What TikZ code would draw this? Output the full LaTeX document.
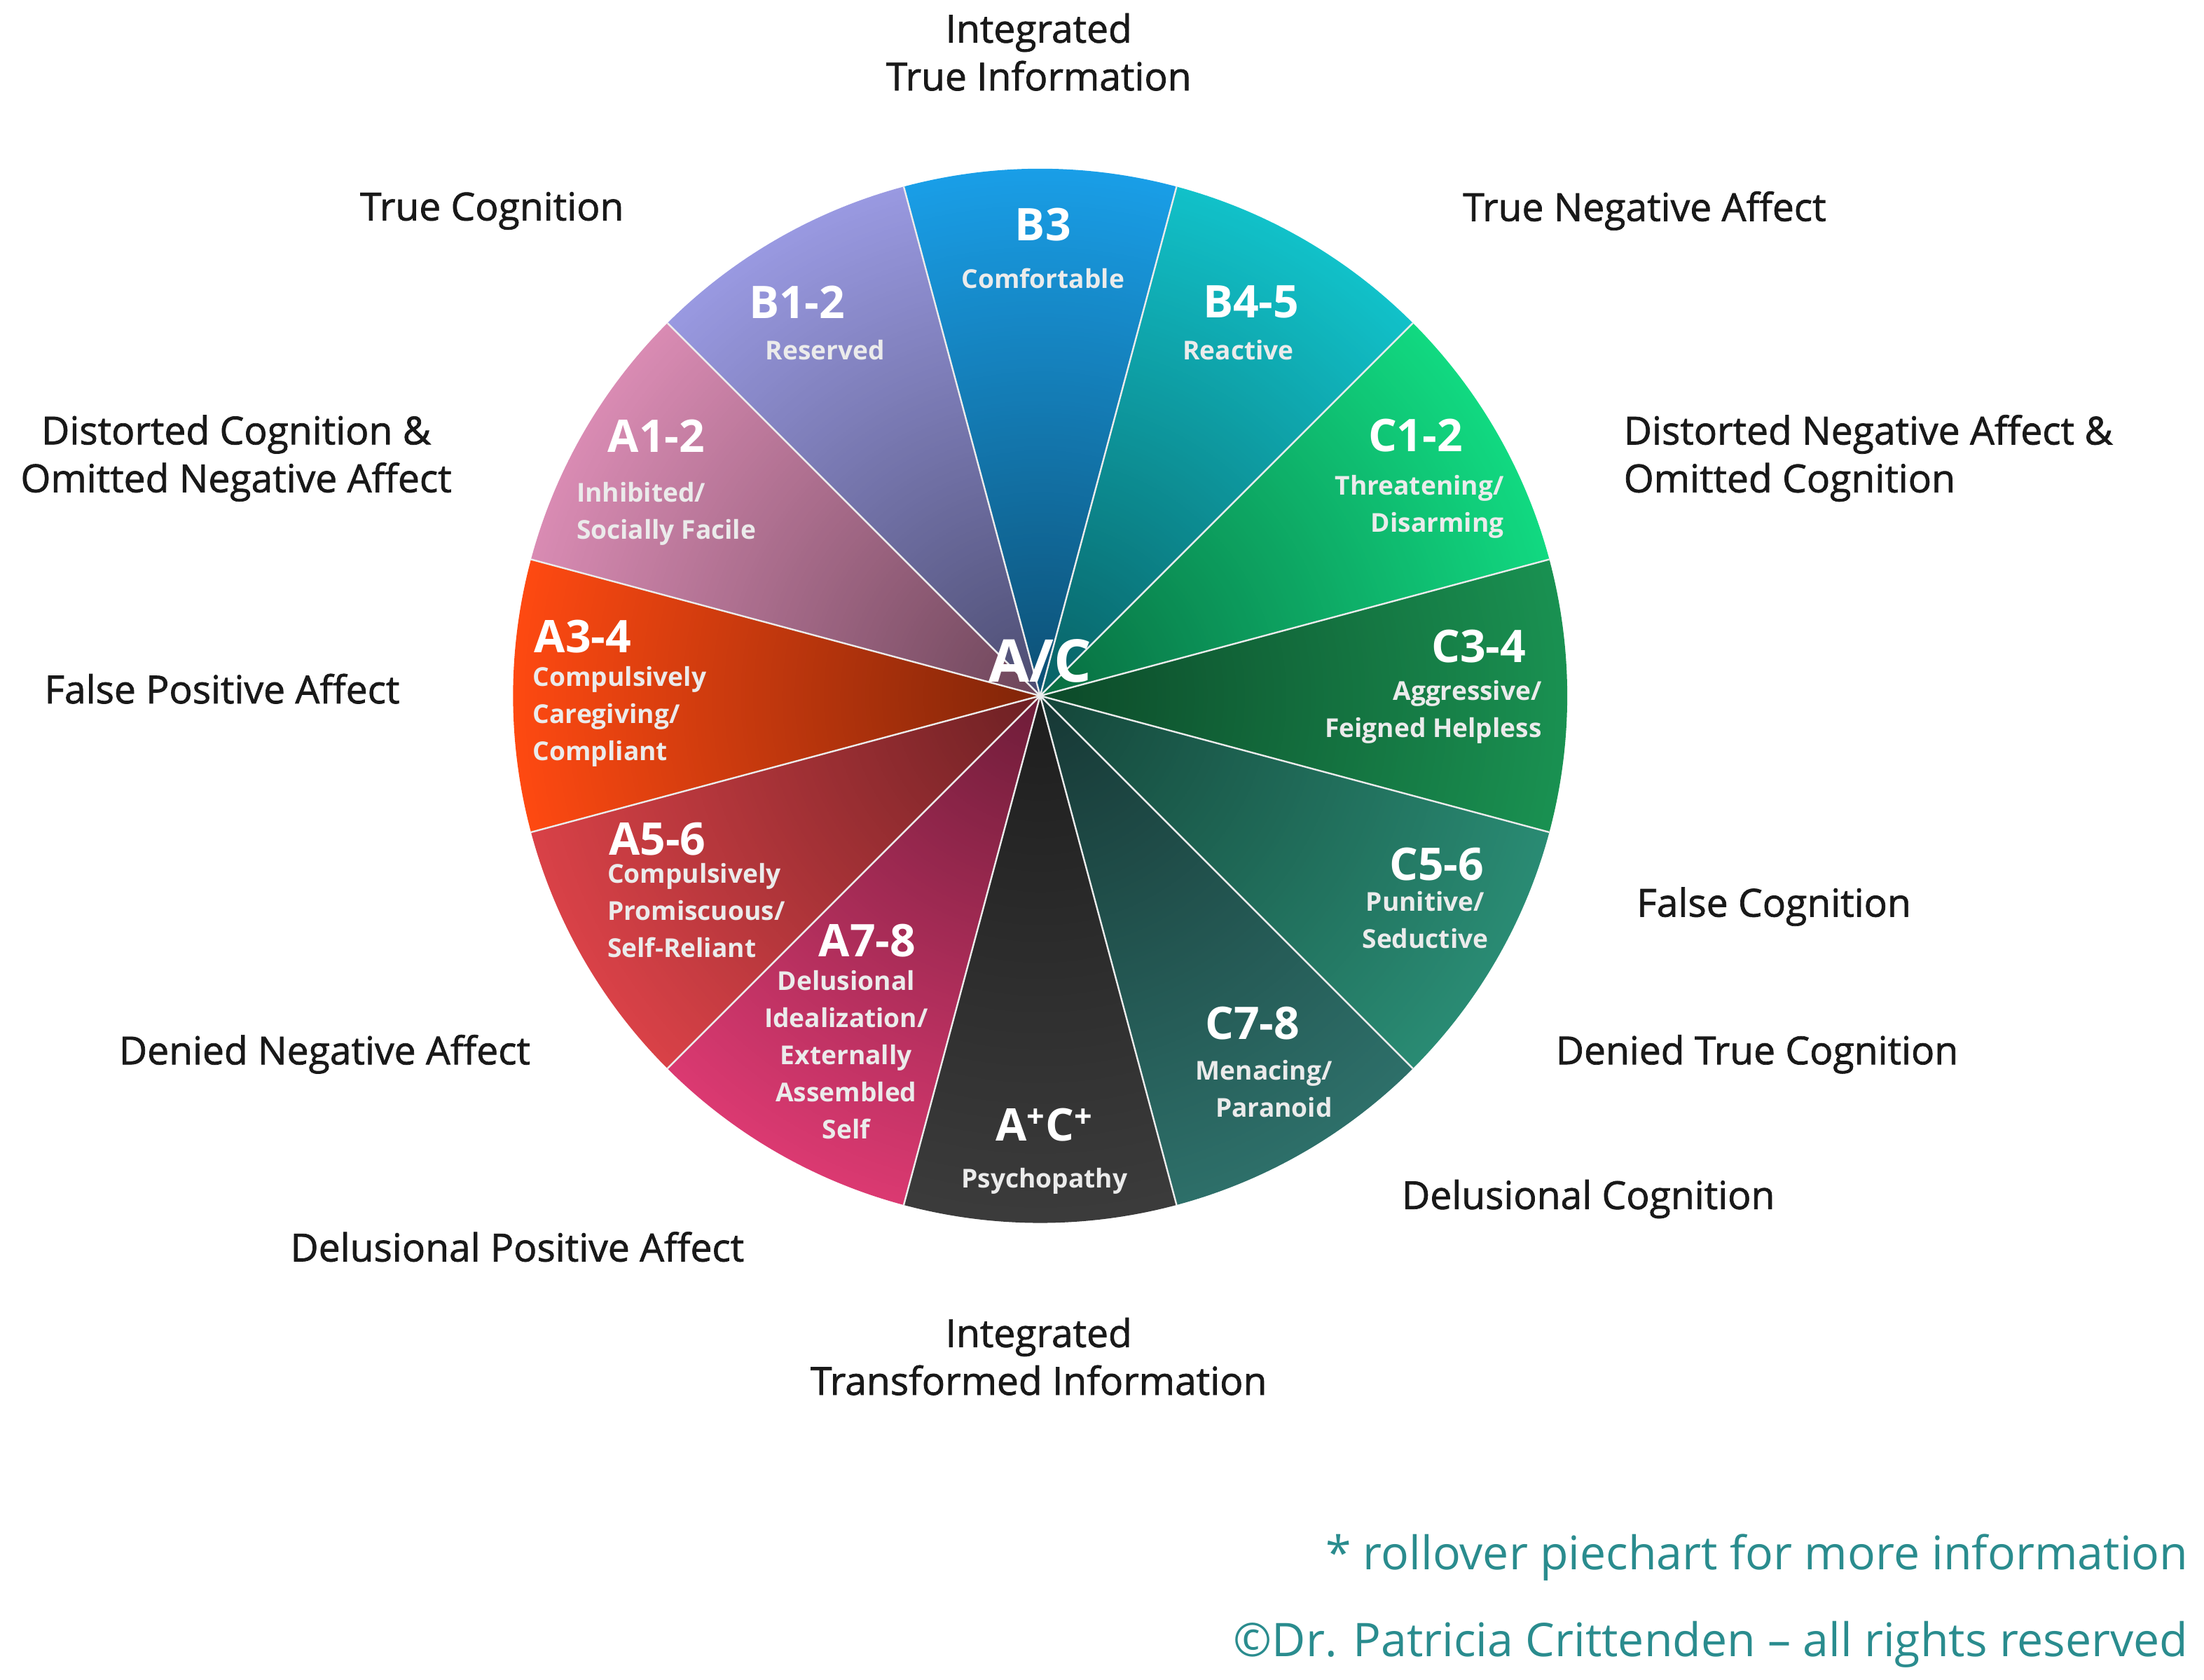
\documentclass[tikz,border=0pt]{standalone}
\usepackage{fontspec}
\setmainfont{Open Sans}
\newfontfamily\labfont{Open Sans}[FakeBold=1.3]
\usetikzlibrary{fadings}
\tikzfading[name=centerfade, inner color=transparent!0, outer color=transparent!100]
\definecolor{cB3}{HTML}{1A9FE8}\definecolor{cB12}{HTML}{9A9AE2}\definecolor{cA12}{HTML}{DA8CB4}
\definecolor{cA34}{HTML}{FF4A12}\definecolor{cA56}{HTML}{DA4248}\definecolor{cA78}{HTML}{DC3A72}
\definecolor{cAC}{HTML}{3C3C3C}\definecolor{cC78}{HTML}{2E706A}\definecolor{cC56}{HTML}{2A8C74}
\definecolor{cC34}{HTML}{1A9252}\definecolor{cC12}{HTML}{12DA82}\definecolor{cB45}{HTML}{12C2CA}
\definecolor{teal1}{HTML}{2A8C8E}
\tikzset{
 lab/.style={font=\labfont\fontsize{27.5}{34}\selectfont, text=black!90, inner sep=0pt},
 code/.style={font=\bfseries\fontsize{32}{36}\selectfont, text=white, inner sep=0pt},
 sub/.style={font=\bfseries\fontsize{18.5}{26.5}\selectfont, text=white!92!black, inner sep=0pt},
 foot/.style={font=\fontsize{33}{38}\selectfont, text=teal1, inner sep=0pt, anchor=east},
}
\begin{document}
\begin{tikzpicture}[x=1pt,y=1pt]
\useasboundingbox (0,-1195) rectangle (1568,0);
\coordinate (c) at (740,-495);
\foreach \a/\col in {90/cB3,120/cB12,150/cA12,180/cA34,210/cA56,240/cA78,270/cAC,300/cC78,330/cC56,0/cC34,30/cC12,60/cB45}{
  \fill[\col] (c) -- ++(\a-15:375) arc[start angle=\a-15,end angle=\a+15,radius=375] -- cycle;
}
\fill[black, opacity=0.5, path fading=centerfade] (c) circle (375);
\foreach \a in {15,45,...,345}{\draw[white!85!gray, line width=1.2pt] (c) -- ++(\a:375);}
\node[code] (b3) at (742,-160) {B3};
\node[sub] at (742,-198) {Comfortable};
\node[code] (b12) at (567,-215) {B1-2};
\node[sub] at (587,-249) {Reserved};
\node[code] (b45) at (890,-215) {B4-5};
\node[sub] at (881,-249) {Reactive};
\node[code] (a12) at (467,-310) {A1-2};
\node[sub, align=left, anchor=north west] at (410,-343) {Inhibited/\\Socially Facile};
\node[code] (c12) at (1007,-310) {C1-2};
\node[sub, align=right, anchor=north east] at (1070,-338) {Threatening/\\Disarming};
\node[code, anchor=west] (a34) at (380,-453) {A3-4};
\node[sub, align=left, anchor=north west] at (379,-474) {Compulsively\\Caregiving/\\Compliant};
\node[code] (c34) at (1052,-460) {C3-4};
\node[sub, align=right, anchor=north east] at (1097,-484) {Aggressive/\\Feigned Helpless};
\node[code, anchor=west] (a56) at (433,-597) {A5-6};
\node[sub, align=left, anchor=north west] at (432,-614) {Compulsively\\Promiscuous/\\Self-Reliant};
\node[code] (c56) at (1022,-615) {C5-6};
\node[sub, align=center, anchor=north] at (1014,-634) {Punitive/\\Seductive};
\node[code] (a78) at (617,-669) {A7-8};
\node[sub, align=center, anchor=north] at (602,-690) {Delusional\\Idealization/\\Externally\\Assembled\\Self};
\node[code] (ac) at (743,-800) {A\textsuperscript{+}C\textsuperscript{+}};
\node[sub] at (743,-840) {Psychopathy};
\node[code] (c78) at (891,-728) {C7-8};
\node[sub, align=right, anchor=north east] at (948,-754) {Menacing/\\Paranoid};
\node[font=\bfseries\fontsize{42}{46}\selectfont, text=white, inner sep=0pt] (center) at (740,-470) {A/C};
\node[lab, align=center] at (739,-37) {Integrated\\True Information};
\node[lab] at (350,-150) {True Cognition};
\node[lab] at (1170,-150) {True Negative Affect};
\node[lab, align=center] at (168,-326) {Distorted Cognition \&\\Omitted Negative Affect};
\node[lab, align=left, anchor=west] at (1155,-326) {Distorted Negative Affect \&\\Omitted Cognition};
\node[lab] at (158,-490) {False Positive Affect};
\node[lab] at (1262,-645) {False Cognition};
\node[lab] at (231,-750) {Denied Negative Affect};
\node[lab] at (1250,-750) {Denied True Cognition};
\node[lab] at (368,-887) {Delusional Positive Affect};
\node[lab] at (1130,-853) {Delusional Cognition};
\node[lab, align=center] at (739,-965) {Integrated\\Transformed Information};
\node[foot] at (1557,-1108) {* rollover piechart for more information};
\node[foot] at (1557,-1170) {©Dr. Patricia Crittenden – all rights reserved};
\end{tikzpicture}
\end{document}
